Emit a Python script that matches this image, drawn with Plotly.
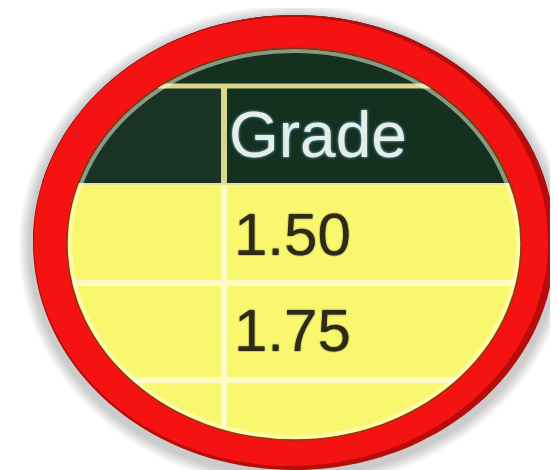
import plotly.graph_objects as go

# ---- data (table excerpt shown in the magnifier) ----
header_labels = ["", "Grade"]
grade_values = ["1.50", "1.75", ""]

W, H = 558, 470

# geometry of the magnifier
OUT_C = (286, 234.5)
OUT_R = (261, 227.5)
IN_C = (286, 236)
IN_R = (227, 196)

K = 0.5523


def ell(cx, cy, rx, ry):
    return (f"M{cx+rx},{cy} "
            f"C{cx+rx},{cy+K*ry} {cx+K*rx},{cy+ry} {cx},{cy+ry} "
            f"C{cx-K*rx},{cy+ry} {cx-rx},{cy+K*ry} {cx-rx},{cy} "
            f"C{cx-rx},{cy-K*ry} {cx-K*rx},{cy-ry} {cx},{cy-ry} "
            f"C{cx+K*rx},{cy-ry} {cx+rx},{cy-K*ry} {cx+rx},{cy} Z")


shapes = []
# table content
HEADER_BOTTOM = 176
ROW_LINES = [275, 372]
COL_X = 216
shapes.append(dict(type="rect", x0=-10, x1=W + 10, y0=-10, y1=HEADER_BOTTOM,
                   fillcolor="#14301f", line_width=0))
shapes.append(dict(type="rect", x0=-10, x1=COL_X, y0=80, y1=HEADER_BOTTOM,
                   fillcolor="#193424", line_width=0))
shapes.append(dict(type="rect", x0=-10, x1=W + 10, y0=HEADER_BOTTOM, y1=H + 10,
                   fillcolor="#f9f76e", line_width=0))
shapes.append(dict(type="line", x0=150, x1=W + 10, y0=78, y1=78,
                   line=dict(color="#d9d68f", width=5)))
shapes.append(dict(type="line", x0=COL_X, x1=COL_X, y0=78, y1=HEADER_BOTTOM,
                   line=dict(color="#d9d68f", width=6)))
shapes.append(dict(type="line", x0=COL_X, x1=COL_X, y0=HEADER_BOTTOM, y1=H + 10,
                   line=dict(color="#fffbc4", width=6)))
shapes.append(dict(type="line", x0=-10, x1=W + 10, y0=HEADER_BOTTOM, y1=HEADER_BOTTOM,
                   line=dict(color="#e6e49a", width=2)))
for ry in ROW_LINES:
    shapes.append(dict(type="line", x0=-10, x1=W + 10, y0=ry, y1=ry,
                       line=dict(color="#fffbc4", width=6)))

# pale inner rim glow
shapes.append(dict(type="path", path=ell(IN_C[0], IN_C[1], IN_R[0] - 3, IN_R[1] - 3),
                   line=dict(color="rgba(255,255,225,0.5)", width=4)))

# white mask outside the magnifier
rect = f"M-20,-20 L{W+20},-20 L{W+20},{H+20} L-20,{H+20} Z "
shapes.append(dict(type="path", path=rect + ell(*OUT_C, *OUT_R),
                   fillcolor="white", fillrule="evenodd", line_width=0))

# soft shadow
for s in range(14, 2, -2):
    shapes.append(dict(type="path",
                       path=ell(OUT_C[0], OUT_C[1] + 4, OUT_R[0] + s, OUT_R[1] + s) + " " + ell(*IN_C, *IN_R),
                       fillcolor="rgba(0,0,0,0.035)", fillrule="evenodd", line_width=0))

# red ring: dark rim then bright face
shapes.append(dict(type="path", path=ell(*OUT_C, *OUT_R) + " " + ell(*IN_C, *IN_R),
                   fillcolor="#b50d0d", fillrule="evenodd", line_width=0))
shapes.append(dict(type="path",
                   path=ell(OUT_C[0] - 3, OUT_C[1] - 1, OUT_R[0] - 4, OUT_R[1] - 3) + " " + ell(*IN_C, *IN_R),
                   fillcolor="#f41212", fillrule="evenodd", line_width=0))
# inner edge line
shapes.append(dict(type="path", path=ell(*IN_C, *IN_R),
                   line=dict(color="#8a3a10", width=1.5)))

annotations = []
annotations.append(dict(x=219, y=127, xref="x", yref="y", text=header_labels[1],
                        showarrow=False, xanchor="left", yanchor="middle",
                        font=dict(family="Liberation Sans", size=64, color="#e6eee8",
                                  shadow="0px 0px 3px #7fc4ff")))
row_centers = [226, 322, 418]
for val, yc in zip(grade_values, row_centers):
    if val:
        annotations.append(dict(x=224, y=yc, xref="x", yref="y", text=val,
                                showarrow=False, xanchor="left", yanchor="middle",
                                font=dict(family="Liberation Sans", size=60, color="#2e2a18",
                                          shadow="0px 0px 1.5px #2e2a18")))

fig = go.Figure()
fig.update_layout(
    width=W, height=H,
    margin=dict(l=0, r=0, t=0, b=0),
    paper_bgcolor="white", plot_bgcolor="white",
    xaxis=dict(range=[0, W], visible=False, fixedrange=True),
    yaxis=dict(range=[H, 0], visible=False, fixedrange=True),
    shapes=shapes, annotations=annotations, showlegend=False,
)
fig.write_html("out.html")
